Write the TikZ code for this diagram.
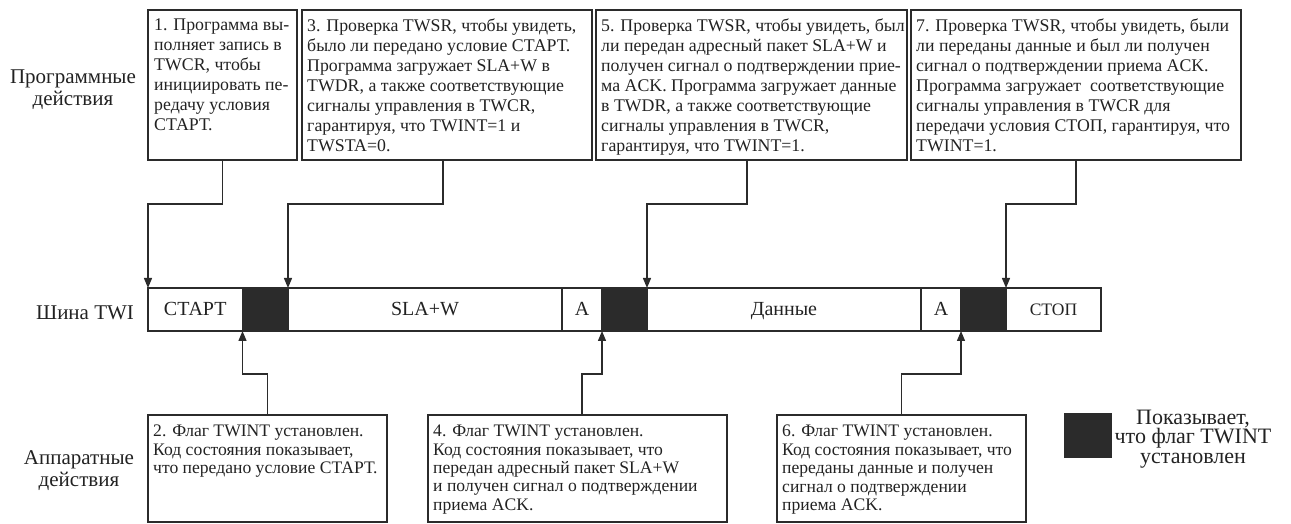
\documentclass[tikz,border=0pt]{standalone}
\usepackage{fontspec}
\setmainfont{Liberation Serif}
\usetikzlibrary{arrows.meta,calc}
\definecolor{ln}{HTML}{2B2B2B}
\definecolor{tc}{HTML}{222222}
\begin{document}
\begin{tikzpicture}[x=1bp,y=-1bp,
  box/.style={draw=ln, line width=1.3bp, anchor=north west, inner sep=0pt, outer sep=0pt},
  btxt/.style={anchor=north west, align=left, inner sep=0pt, text=tc, font=\fontsize{17.8bp}{20bp}\selectfont},
  bbtxt/.style={btxt, font=\fontsize{17.6bp}{18.4bp}\selectfont},
  cell/.style={draw=ln, line width=1.3bp, anchor=north west, minimum height=43bp, inner sep=0pt, outer sep=0pt, text=tc, text height=13bp, text depth=0bp, font=\fontsize{20bp}{22bp}\selectfont},
  flag/.style={cell, fill=ln},
  lbl/.style={align=center, inner sep=0pt, text=tc, font=\fontsize{21bp}{22bp}\selectfont},
  arr/.style={draw=ln, line width=1.3bp, -{Triangle[length=10bp,width=8bp]}}]
\useasboundingbox (0,0) rectangle (1291,524);

% left labels
\node[lbl] (lsw) at (73,90) {Программные\\действия};
\node[lbl] (lbus) at (85,313) {Шина TWI};
\node[lbl] (lhw) at (79,471) {Аппаратные\\действия};

% top boxes
\node[box, minimum width=149bp, minimum height=150bp] (b1) at (148,10) {};
\node[box, minimum width=290bp, minimum height=150bp] (b3) at (302,10) {};
\node[box, minimum width=311bp, minimum height=150bp] (b5) at (596,10) {};
\node[box, minimum width=330bp, minimum height=150bp] (b7) at (911,10) {};
\node[btxt] (t1) at ([xshift=6bp,yshift=-9bp]b1.north west) {1. Программа вы-\\полняет запись в\\TWCR, чтобы\\инициировать пе-\\редачу условия\\СТАРТ.};
\node[btxt] (t3) at ([xshift=5bp,yshift=-9bp]b3.north west) {3. Проверка TWSR, чтобы увидеть,\\было ли передано условие СТАРТ.\\Программа загружает SLA+W в\\TWDR, а также соответствующие\\сигналы управления в TWCR,\\гарантируя, что TWINT=1 и\\TWSTA=0.};
\node[btxt] (t5) at ([xshift=5bp,yshift=-9bp]b5.north west) {5. Проверка TWSR, чтобы увидеть, был\\ли передан адресный пакет SLA+W и\\получен сигнал о подтверждении прие-\\ма ACK. Программа загружает данные\\в TWDR, а также соответствующие\\сигналы управления в TWCR,\\гарантируя, что TWINT=1.};
\node[btxt] (t7) at ([xshift=5bp,yshift=-9bp]b7.north west) {7. Проверка TWSR, чтобы увидеть, были\\ли переданы данные и был ли получен\\сигнал о подтверждении приема ACK.\\Программа загружает\ \ соответствующие\\сигналы управления в TWCR для\\передачи условия СТОП, гарантируя, что\\TWINT=1.};

% bus
\node[cell, minimum width=94.5bp] (start) at (148,288) {СТАРТ};
\node[flag, minimum width=45.5bp] (f1) at (242.5,288) {};
\node[cell, minimum width=274bp] (sla) at (288,288) {SLA+W};
\node[cell, minimum width=40bp] (a1) at (562,288) {A};
\node[flag, minimum width=45bp] (f2) at (602,288) {};
\node[cell, minimum width=274bp] (data) at (647,288) {Данные};
\node[cell, minimum width=40bp] (a2) at (921,288) {A};
\node[flag, minimum width=45bp] (f3) at (961,288) {};
\node[cell, minimum width=95bp, text height=11.5bp, font=\fontsize{17.5bp}{20bp}\selectfont] (stop) at (1006,288) {СТОП};

% bottom boxes
\node[box, minimum width=239bp, minimum height=107bp] (b2) at (148,415) {};
\node[box, minimum width=299bp, minimum height=107bp] (b4) at (428,415) {};
\node[box, minimum width=249bp, minimum height=107bp] (b6) at (777,415) {};
\node[bbtxt] (t2) at ([xshift=5bp,yshift=-10bp]b2.north west) {2. Флаг TWINT установлен.\\Код состояния показывает,\\что передано условие СТАРТ.};
\node[bbtxt] (t4) at ([xshift=5bp,yshift=-10bp]b4.north west) {4. Флаг TWINT установлен.\\Код состояния показывает, что\\передан адресный пакет SLA+W\\и получен сигнал о подтверждении\\приема ACK.};
\node[bbtxt] (t6) at ([xshift=5bp,yshift=-10bp]b6.north west) {6. Флаг TWINT установлен.\\Код состояния показывает, что\\переданы данные и получен\\сигнал о подтверждении\\приема ACK.};

% legend
\node[flag, minimum width=46bp, minimum height=43bp] (lgsq) at (1065,414) {};
\node[lbl, font=\fontsize{22bp}{19.5bp}\selectfont] (lgt) at (1193,439) {Показывает,\\что флаг TWINT\\установлен};

% connectors top
\draw[arr] (b1.south) -- ++(0,44) -| (start.north west);
\draw[arr] ([xshift=-4bp]b3.south) -- ++(0,44) -| (sla.north west);
\draw[arr] ([xshift=-4.5bp]b5.south) -- ++(0,44) -| (data.north west);
\draw[arr] (b7.south) -- ++(0,44) -| (stop.north west);
% connectors bottom
\draw[arr] (b2.north) -- ++(0,-41) -| (start.south east);
\draw[arr] ([xshift=4.5bp]b4.north) -- ++(0,-41) -| (a1.south east);
\draw[arr] (b6.north) -- ++(0,-41) -| (a2.south east);
\end{tikzpicture}
\end{document}
